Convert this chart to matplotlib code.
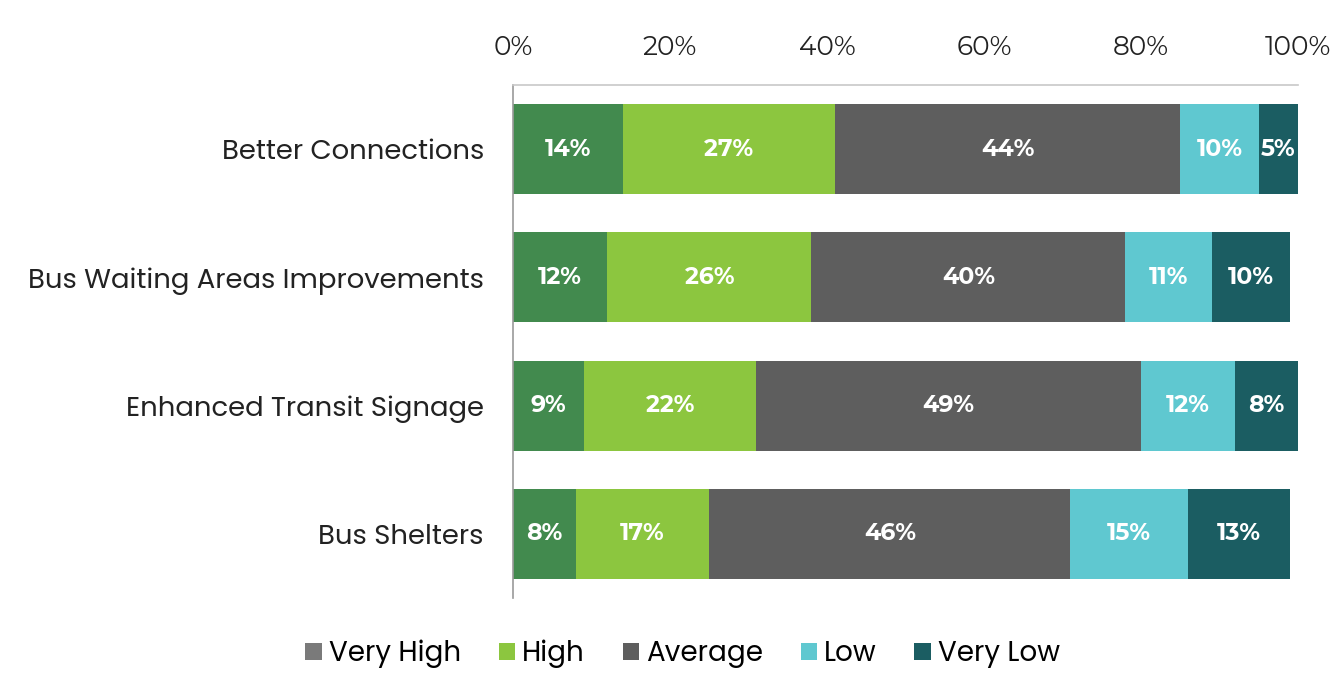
import matplotlib
matplotlib.use("Agg")
import matplotlib.pyplot as plt
from matplotlib.patches import Patch

categories = ["Better Connections", "Bus Waiting Areas Improvements",
              "Enhanced Transit Signage", "Bus Shelters"]
series_names = ["Very High", "High", "Average", "Low", "Very Low"]
very_high = [14, 12, 9, 8]
high = [27, 26, 22, 17]
average = [44, 40, 49, 46]
low = [10, 11, 12, 15]
very_low = [5, 10, 8, 13]
series_values = [very_high, high, average, low, very_low]
tick_values = [0, 20, 40, 60, 80, 100]

bar_colors = ["#428a4e", "#8cc63f", "#5e5e5e", "#5fc8d0", "#1b5d62"]
legend_colors = ["#7a7a7a", "#8cc63f", "#5e5e5e", "#5fc8d0", "#1b5d62"]

num_font = ["Montserrat Alternates", "DejaVu Sans"]
word_font = ["Poppins", "Montserrat Alternates", "DejaVu Sans"]
plt.rcParams["font.family"] = word_font

fig = plt.figure(figsize=(13.44, 6.9), dpi=100)
ax = fig.add_axes([0.3817, 0.1333, 0.5841, 0.7435])

ypos = list(range(len(categories)))
left = [0] * len(categories)
for name, vals, col in zip(series_names, series_values, bar_colors):
    bars = ax.barh(ypos, vals, left=left, height=0.7, color=col, label=name)
    for b, v in zip(bars, vals):
        ax.text(b.get_x() + b.get_width() / 2, b.get_y() + b.get_height() / 2,
                f"{v}%", ha="center", va="center", color="white",
                fontsize=17, fontweight="bold", family=num_font)
    left = [l + v for l, v in zip(left, vals)]

ax.set_xlim(0, 100)
ax.set_ylim(3.5, -0.5)
ax.xaxis.tick_top()
ax.set_xticks(tick_values)
ax.set_xticklabels([f"{t}%" for t in tick_values], fontsize=19,
                   color="#222222", family=num_font)
ax.set_yticks(ypos)
ax.set_yticklabels(categories, fontsize=19.8, color="#222222")
ax.tick_params(axis="both", length=0)
ax.tick_params(axis="x", pad=18)
ax.tick_params(axis="y", pad=21)

for s in ["right", "bottom"]:
    ax.spines[s].set_visible(False)
ax.spines["left"].set_color("#9a9a9a")
ax.spines["top"].set_color("#c8c8c8")
ax.spines["left"].set_linewidth(1.2)
ax.spines["top"].set_linewidth(1.2)

handles = [Patch(facecolor=c, edgecolor="none", label=n)
           for n, c in zip(series_names, legend_colors)]
fig.legend(handles=handles, loc="center", bbox_to_anchor=(0.508, 0.052),
           ncol=5, frameon=False, fontsize=20, handlelength=0.6,
           handleheight=0.6, handletextpad=0.25, columnspacing=1.35)

fig.savefig("out.png", dpi=100, facecolor="white")
